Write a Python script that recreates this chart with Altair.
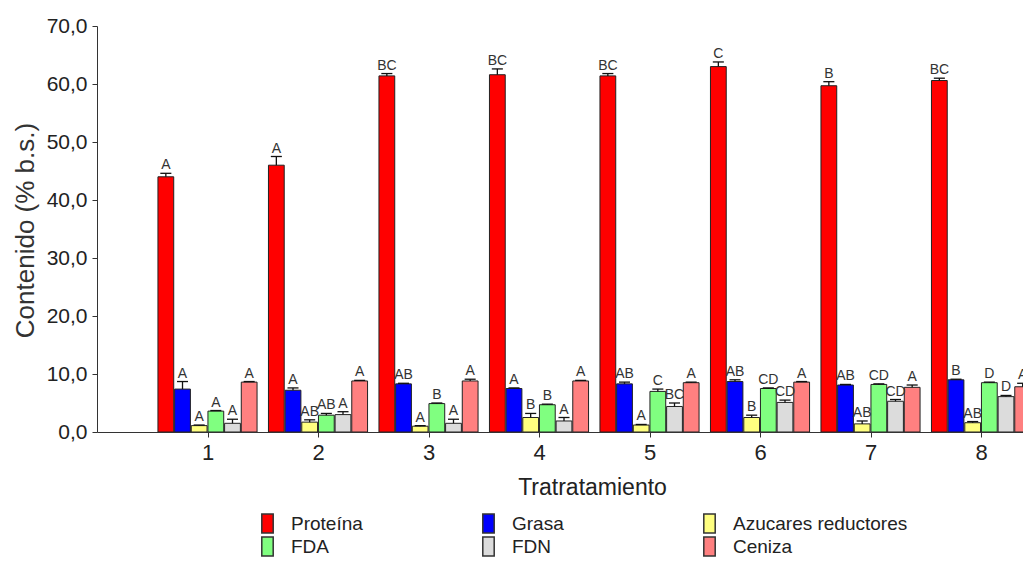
import altair as alt
import pandas as pd

treatments = [1, 2, 3, 4, 5, 6, 7, 8]
series = ["Proteína", "Grasa", "Azucares reductores", "FDA", "FDN", "Ceniza"]
colors = ["#FF0000", "#0000FF", "#FFFF80", "#80FF80", "#DCDCDC", "#FF8080"]

proteina = [44.0, 46.0, 61.4, 61.6, 61.4, 63.0, 59.7, 60.6]
proteina_err = [0.6, 1.5, 0.4, 1.0, 0.4, 0.8, 0.7, 0.4]
proteina_let = ["A", "A", "BC", "BC", "BC", "C", "B", "BC"]

grasa = [7.4, 7.2, 8.3, 7.5, 8.3, 8.7, 8.1, 9.0]
grasa_err = [1.3, 0.4, 0.1, 0.1, 0.3, 0.3, 0.1, 0.1]
grasa_let = ["A", "A", "AB", "A", "AB", "AB", "AB", "B"]

azucares = [1.1, 1.7, 1.0, 2.5, 1.2, 2.5, 1.4, 1.6]
azucares_err = [0.1, 0.4, 0.1, 0.7, 0.1, 0.4, 0.5, 0.2]
azucares_let = ["A", "AB", "A", "B", "A", "B", "AB", "AB"]

fda = [3.6, 2.9, 4.9, 4.7, 7.0, 7.5, 8.2, 8.5]
fda_err = [0.1, 0.3, 0.1, 0.1, 0.4, 0.1, 0.1, 0.1]
fda_let = ["A", "AB", "B", "B", "C", "CD", "CD", "D"]

fdn = [1.5, 3.0, 1.5, 1.9, 4.4, 5.1, 5.3, 6.1]
fdn_err = [0.7, 0.5, 0.7, 0.6, 0.6, 0.4, 0.3, 0.2]
fdn_let = ["A", "A", "A", "A", "BC", "CD", "CD", "D"]

ceniza = [8.6, 8.8, 8.8, 8.8, 8.5, 8.6, 7.7, 7.8]
ceniza_err = [0.1, 0.1, 0.3, 0.1, 0.1, 0.1, 0.4, 0.6]
ceniza_let = ["A", "A", "A", "A", "A", "A", "A", "A"]

values = [proteina, grasa, azucares, fda, fdn, ceniza]
errors = [proteina_err, grasa_err, azucares_err, fda_err, fdn_err, ceniza_err]
letters = [proteina_let, grasa_let, azucares_let, fda_let, fdn_let, ceniza_let]

rows = []
for si, name in enumerate(series):
    for t, v, e, l in zip(treatments, values[si], errors[si], letters[si]):
        rows.append(dict(trat=t, serie=name, idx=si, valor=v, err=e, letra=l))
df = pd.DataFrame(rows)

FONT = "Liberation Sans, Arial, sans-serif"
W, H = 926, 406
bw = 0.1508

xscale = alt.Scale(domain=[0, 8.38], nice=False, zero=False)
yscale = alt.Scale(domain=[0, 70], nice=False)

xaxis = alt.Axis(
    values=treatments, format="d", grid=False, title="Tratratamiento",
    domainColor="#333", tickColor="#333", tickSize=5,
    labelFont=FONT, labelFontSize=22, labelColor="#222", labelPadding=5,
    titleFont=FONT, titleFontSize=23, titleFontWeight="normal", titleColor="#222",
    titleX=495, titleY=55, titleBaseline="middle", titleAlign="center",
)
yaxis = alt.Axis(
    values=[0, 10, 20, 30, 40, 50, 60, 70], grid=False,
    labelExpr="replace(format(datum.value, '.1f'), '.', ',')",
    domainColor="#333", tickColor="#333", tickSize=5,
    labelFont=FONT, labelFontSize=21, labelColor="#222", labelPadding=5,
    title="Contenido (% b.s.)",
    titleFont=FONT, titleFontSize=26, titleFontWeight="normal", titleColor="#333",
    titleX=-72, titleY=204, titleAngle=270, titleBaseline="middle", titleAlign="center",
)

base = alt.Chart(df).transform_calculate(
    pos=f"datum.trat + (datum.idx - 2.5) * {bw}",
    x0=f"datum.trat + (datum.idx - 3) * {bw} + 0.004",
    x1=f"datum.trat + (datum.idx - 2) * {bw} - 0.004",
    c0=f"datum.trat + (datum.idx - 2.5) * {bw} - 0.05",
    c1=f"datum.trat + (datum.idx - 2.5) * {bw} + 0.05",
    top="datum.valor + datum.err",
    cero="0",
)

legend = alt.Legend(
    title=None, orient="none", legendX=160, legendY=487, columns=3,
    direction="horizontal",
    symbolType="M-0.6,-1H0.6V1H-0.6Z", symbolSize=361,
    symbolStrokeColor="#333", symbolStrokeWidth=1.5,
    labelFont=FONT, labelFontSize=19, labelColor="#222", labelLimit=300,
    labelOffset=13, columnPadding=12, rowPadding=-5, gridAlign="all",
)

bars = base.mark_rect(stroke="#222", strokeWidth=1, clip=True).encode(
    x=alt.X("x0:Q", scale=xscale, axis=xaxis),
    x2="x1:Q",
    y=alt.Y("valor:Q", scale=yscale, axis=yaxis),
    y2="cero:Q",
    color=alt.Color("serie:N", scale=alt.Scale(domain=series, range=colors), legend=legend),
)

err = base.mark_rule(color="#111", strokeWidth=1.3, clip=True).encode(
    x=alt.X("pos:Q", scale=xscale, axis=xaxis),
    y=alt.Y("valor:Q", scale=yscale, axis=yaxis),
    y2="top:Q",
)

caps = base.mark_rule(color="#111", strokeWidth=1.3, clip=True).encode(
    x=alt.X("c0:Q", scale=xscale, axis=xaxis),
    x2="c1:Q",
    y=alt.Y("top:Q", scale=yscale, axis=yaxis),
)

labels = base.mark_text(
    dy=-4, baseline="alphabetic", align="center", fontSize=14, font=FONT,
    color="#333", clip=True,
).encode(
    x=alt.X("pos:Q", scale=xscale, axis=xaxis),
    y=alt.Y("top:Q", scale=yscale, axis=yaxis),
    text="letra:N",
)

chart = alt.layer(bars, err, caps, labels).properties(
    width=W, height=H,
    autosize=alt.AutoSizeParams(type="none"),
    padding={"left": 89, "top": 18, "right": 0, "bottom": 126},
    background="white",
).configure_view(stroke=None)

chart.save("out.html", embed_options={"renderer": "svg", "actions": False})
